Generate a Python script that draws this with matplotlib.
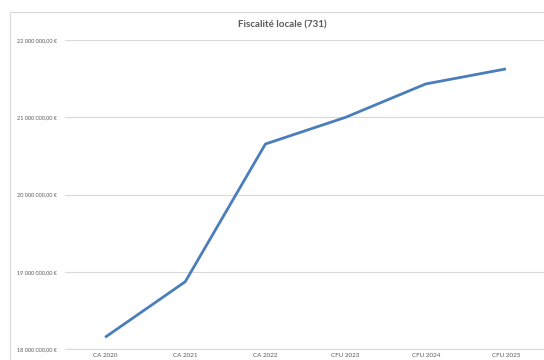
import matplotlib
matplotlib.use("Agg")
from matplotlib import pyplot as plt
from matplotlib.patches import Rectangle
from matplotlib.ticker import FuncFormatter, MultipleLocator

categories = ["CA 2020", "CA 2021", "CA 2022", "CFU 2023", "CFU 2024", "CFU 2025"]
values = [18155000, 18874000, 20655000, 21000000, 21432000, 21626000]

plt.rcParams['font.family'] = ['Lato', 'DejaVu Sans']

grey_text = "#595959"
grid_col = "#d9d9d9"

fig = plt.figure(figsize=(5.44, 3.6), dpi=100)
# chart frame
fig.patches.append(Rectangle((10 / 544, -0.1), 1.2, 1 - 12 / 360 + 0.1,
                             transform=fig.transFigure, fill=False,
                             edgecolor=grid_col, linewidth=0.8))

ax = fig.add_axes([65 / 544, 1 - 349.3 / 360, 481 / 544, (349.3 - 40) / 360])
x = range(len(categories))
ax.plot(x, values, color="#4a7ebb", linewidth=2.0, solid_capstyle="butt")

ax.set_xlim(-0.5, len(categories) - 0.5)
ax.set_ylim(18000000, 22000000)
ax.set_xticks(list(x))
ax.set_xticklabels(categories)
ax.yaxis.set_major_locator(MultipleLocator(1000000))


def euro(v, pos):
    s = f"{int(round(v)):,}".replace(",", " ")
    return s + ",00 €"


ax.yaxis.set_major_formatter(FuncFormatter(euro))
ax.tick_params(axis="both", length=0, labelsize=4.5, colors=grey_text)
ax.tick_params(axis="y", labelsize=4.0, pad=6)
ax.tick_params(axis="x", pad=2.5)
ax.grid(axis="y", color=grid_col, linewidth=0.8)
ax.set_axisbelow(True)
for side in ["left", "right", "top"]:
    ax.spines[side].set_visible(False)
ax.spines["bottom"].set_color(grid_col)
ax.spines["bottom"].set_linewidth(0.8)

fig.text(282 / 544, 1 - 25 / 360, "Fiscalité locale (731)", ha="center", va="center",
         fontsize=7, fontweight="bold", color=grey_text)

fig.savefig("out.png", dpi=100)
